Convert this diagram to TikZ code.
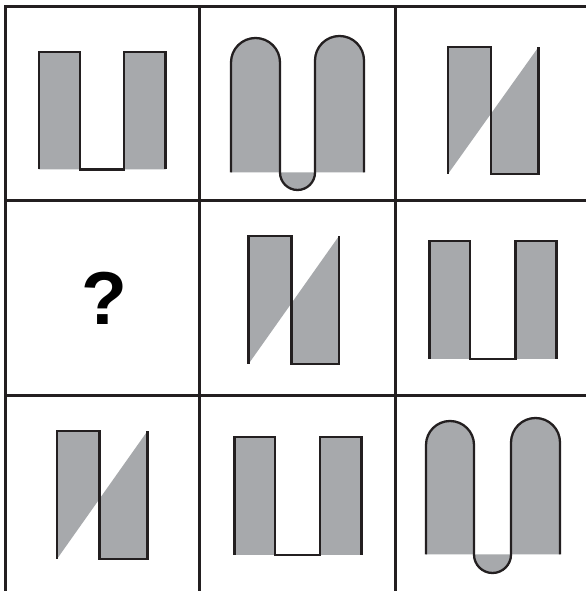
\documentclass[tikz,border=0pt]{standalone}
\usepackage{fontspec}
\setmainfont{Liberation Sans}
\definecolor{shapegray}{RGB}{167,169,172}
\definecolor{ink}{RGB}{35,31,32}
\tikzset{
  gridline/.style={draw=ink, line width=3pt},
  outline/.style={draw=ink, line width=2.3pt, line join=miter},
  shapefill/.style={fill=shapegray, draw=none},
}
% U shape: xL xa xb xR top bottom (screen coordinates, y downwards)
\newcommand\drawUshape[6]{%
  \path[shapefill] (#1,{591-#6}) -- (#1,{591-#5}) -- (#2,{591-#5}) -- (#2,{591-#6}) -- (#3,{591-#6}) -- (#3,{591-#5}) -- (#4,{591-#5}) -- (#4,{591-#6}) -- cycle;
  \draw[outline] (#1,{591-#6}) -- (#1,{591-#5}) -- (#2,{591-#5}) -- (#2,{591-#6}) -- (#3,{591-#6}) -- (#3,{591-#5}) -- (#4,{591-#5}) -- (#4,{591-#6});
}
% N shape: xL xM xR top bottom
\newcommand\drawNshape[5]{%
  \path[shapefill] (#1,{591-#5}) -- (#1,{591-#4}) -- (#2,{591-#4}) -- (#2,{591-#5}) -- (#3,{591-#5}) -- (#3,{591-#4}) -- cycle;
  \draw[outline] (#1,{591-#5}) -- (#1,{591-#4}) -- (#2,{591-#4}) -- (#2,{591-#5}) -- (#3,{591-#5}) -- (#3,{591-#4});
}
% Arches: xL1 xR1 xL2 xR2 topL topR base
\newcommand\drawArchshape[7]{%
  \path[shapefill] (#1,{591-#7}) -- (#1,{591-#5-(#2-#1)/2}) arc[start angle=180,end angle=0,radius={(#2-#1)/2}] -- (#2,{591-#7}) arc[start angle=180,end angle=360,radius={(#3-#2)/2}] -- (#3,{591-#6-(#4-#3)/2}) arc[start angle=180,end angle=0,radius={(#4-#3)/2}] -- (#4,{591-#7}) -- cycle;
  \draw[outline] (#1,{591-#7}) -- (#1,{591-#5-(#2-#1)/2}) arc[start angle=180,end angle=0,radius={(#2-#1)/2}] -- (#2,{591-#7}) arc[start angle=180,end angle=360,radius={(#3-#2)/2}] -- (#3,{591-#6-(#4-#3)/2}) arc[start angle=180,end angle=0,radius={(#4-#3)/2}] -- (#4,{591-#7});
}
\begin{document}
\begin{tikzpicture}[x=1pt,y=1pt]
\useasboundingbox (0,0) rectangle (586,591);
\fill[white] (0,0) rectangle (586,591);
% grid
\draw[gridline] (5,{591-7}) -- (586,{591-7});
\draw[gridline] (5,{591-201}) -- (586,{591-201});
\draw[gridline] (5,{591-396}) -- (586,{591-396});
\draw[gridline] (5,{591-5.5}) -- (5,0);
\draw[gridline] (199.5,{591-5.5}) -- (199.5,0);
\draw[gridline] (395,{591-5.5}) -- (395,0);
% row 1
\drawUshape{39}{80}{124}{165.5}{52}{169.5}
\drawArchshape{231}{280}{315}{364}{38}{36}{172.5}
\drawNshape{448}{491}{538.5}{47}{174}
% row 2
\node[font=\fontsize{75}{75}\selectfont\bfseries, inner sep=0pt, anchor=base] (q) at (104,{591-325}) {?};
\drawNshape{248.5}{291.5}{339}{236}{364}
\drawUshape{429.5}{470}{515.5}{556.5}{241}{359}
% row 3
\drawNshape{57}{99.5}{147.5}{431}{559}
\drawUshape{234.5}{275}{320}{361.5}{437}{555}
\drawArchshape{426}{474}{511}{560}{421}{418}{554.5}
\end{tikzpicture}
\end{document}
